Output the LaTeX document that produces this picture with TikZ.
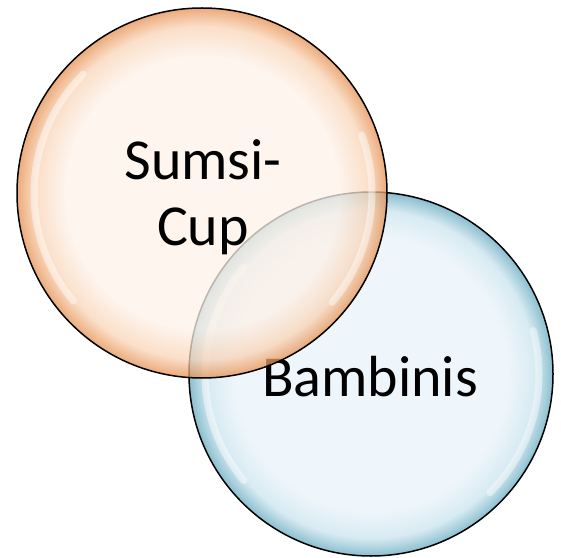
\documentclass[tikz,border=0pt]{standalone}
\usepackage{fontspec}
\setmainfont{Carlito}
\definecolor{orangein}{HTML}{FDF1E8}
\definecolor{orangemid}{HTML}{F9D4B6}
\definecolor{orangerim}{HTML}{E58F50}
\definecolor{bluein}{HTML}{EAF3FA}
\definecolor{bluemid}{HTML}{CBE4EE}
\definecolor{bluerim}{HTML}{64A9BF}
\pgfdeclareradialshading{orangebubble}{\pgfpoint{0bp}{0bp}}{color(0bp)=(orangein); color(18.5bp)=(orangein); color(22.5bp)=(orangemid); color(25bp)=(orangerim); color(50bp)=(orangerim)}
\pgfdeclareradialshading{bluebubble}{\pgfpoint{0bp}{0bp}}{color(0bp)=(bluein); color(18.5bp)=(bluein); color(22.5bp)=(bluemid); color(25bp)=(bluerim); color(50bp)=(bluerim)}
\tikzset{
    bubble/.style={shape=circle,draw=black,line width=1.5pt,inner sep=0pt,fill opacity=0.75},
    gloss/.style={draw=white,line width=7pt,line cap=round,opacity=0.45},
    label/.style={font=\fontsize{58}{66}\selectfont,align=center,inner sep=0pt}
}
\begin{document}
\begin{tikzpicture}[x=1pt,y=1pt]
    \useasboundingbox (0,0) rectangle (561,557);

    \node[bubble,shading=bluebubble,minimum size=364pt] (bambinis) at (371,183) {};
    \draw[gloss] ([shift={(140:166)}]bambinis.center) arc[start angle=140,end angle=220,radius=166];
    \draw[gloss] ([shift={(-45:168)}]bambinis.center) arc[start angle=-45,end angle=15,radius=168];
    \node[label,anchor=base] (bambinislabel) at (370,161) {Bambinis};

    \node[bubble,shading=orangebubble,minimum size=370pt] (sumsi) at (202,364) {};
    \draw[gloss] ([shift={(135:168)}]sumsi.center) arc[start angle=135,end angle=220,radius=168];
    \draw[gloss] ([shift={(-40:170)}]sumsi.center) arc[start angle=-40,end angle=20,radius=170];
    \node[label,anchor=base] (sumsilabel) at (203,311) {Sumsi-\\Cup};

\end{tikzpicture}
\end{document}
